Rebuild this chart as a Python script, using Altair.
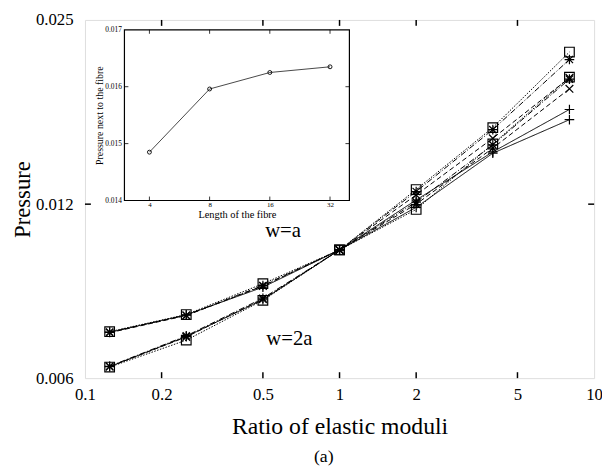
import altair as alt
import pandas as pd

# ---------------- main chart data ----------------
RATIO = [0.125, 0.25, 0.5, 1, 2, 4, 8]

SERIES = ["w=a L4", "w=a L8", "w=a L16", "w=a L32",
          "w=2a L4", "w=2a L8", "w=2a L16", "w=2a L32"]
VALUES = [
    [0.00720, 0.00772, 0.00862, 0.0100, 0.01185, 0.01470, 0.01680],
    [0.00719, 0.00770, 0.00866, 0.0100, 0.01200, 0.01500, 0.01900],
    [0.00721, 0.00771, 0.00868, 0.0100, 0.01210, 0.01520, 0.01975],
    [0.00722, 0.00773, 0.00874, 0.0100, 0.01175, 0.01525, 0.01990],
    [0.00628, 0.00708, 0.00820, 0.0100, 0.01220, 0.01478, 0.01750],
    [0.00628, 0.00707, 0.00822, 0.0100, 0.01245, 0.01560, 0.01985],
    [0.00629, 0.00710, 0.00825, 0.0100, 0.01262, 0.01615, 0.02135],
    [0.00627, 0.00698, 0.00818, 0.0100, 0.01272, 0.01628, 0.02200],
]
MARKERS = ["plus", "cross", "star", "square", "plus", "cross", "star", "square"]

X_TICKS = [0.1, 0.2, 0.5, 1, 2, 5, 10]
X_INNER_TICKS = [0.2, 0.5, 1, 2, 5]
Y_TICKS = [0.006, 0.012, 0.025]
Y_INNER_TICKS = [0.012]

LABELS = ["w=a", "w=2a"]
LABEL_X = [0.60, 0.635]
LABEL_Y = [0.01080, 0.00702]

# ---------------- inset data ----------------
FIBRE_LEN = [4, 8, 16, 32]
FIBRE_P = [0.01485, 0.01596, 0.01625, 0.01635]
INSET_X_TICKS = [4, 8, 16, 32]
INSET_Y_TICKS = [0.014, 0.015, 0.016, 0.017]
INSET_Y_INNER = [0.015, 0.016]

# ---------------- style ----------------
FONT = "Liberation Serif"
W, H = 516, 363
IX0, IX1, IY0, IY1 = 40, 268, 183, 10   # inset plot range (pixels inside main plot)

SHAPES = {
    "plus": "M-1,0L1,0M0,-1L0,1",
    "cross": "M-0.8,-0.8L0.8,0.8M-0.8,0.8L0.8,-0.8",
    "star": "M-1,0L1,0M0,-1L0,1M-0.75,-0.75L0.75,0.75M-0.75,0.75L0.75,-0.75",
    "square": "M-1,-1L1,-1L1,1L-1,1Z",
}
DASHES = {
    "plus": [1, 0],
    "cross": [5, 3],
    "star": [6, 2, 1, 2],
    "square": [1.5, 1.5],
}

rows = []
for name, vals, mk in zip(SERIES, VALUES, MARKERS):
    for r, v in zip(RATIO, vals):
        rows.append({"ratio": r, "pressure": v, "series": name, "marker": mk})
df = pd.DataFrame(rows)

xscale = alt.Scale(type="log", domain=[0.1, 10], nice=False)
yscale = alt.Scale(type="log", domain=[0.006, 0.025], nice=False)

xaxis = alt.Axis(values=X_TICKS, format="~g", title="Ratio of elastic moduli",
                 orient="bottom",
                 ticks=False, domain=False, grid=False, labelFont=FONT,
                 labelFontSize=17, labelPadding=9, labelColor="black",
                 labelFlush=False, labelOverlap=False,
                 titleFont=FONT, titleFontSize=24, titleFontWeight="normal",
                 titleColor="black", titleBaseline="alphabetic", titleY=56)
yaxis = alt.Axis(values=Y_TICKS, format="~g", title="Pressure",
                 orient="left",
                 ticks=False, domain=False, grid=False, labelFont=FONT,
                 labelFontSize=17, labelPadding=12, labelColor="black",
                 labelFlush=False, labelOverlap=False,
                 titleFont=FONT, titleFontSize=23, titleFontWeight="normal",
                 titleColor="black", titleBaseline="alphabetic", titleX=-56)

X = lambda f: alt.X(f, type="quantitative", scale=xscale, axis=xaxis)
Y = lambda f: alt.Y(f, type="quantitative", scale=yscale, axis=yaxis)

main_layers = []
for name, mk in zip(SERIES, MARKERS):
    sub = df[df["series"] == name]
    main_layers.append(
        alt.Chart(sub).mark_line(color="black", strokeWidth=1,
                                 strokeDash=DASHES[mk])
        .encode(x=X("ratio"), y=Y("pressure"))
    )
for name, mk in zip(SERIES, MARKERS):
    sub = df[df["series"] == name]
    main_layers.append(
        alt.Chart(sub).mark_point(shape=SHAPES[mk], filled=False, stroke="black",
                                  strokeWidth=1.2, size=95, opacity=1)
        .encode(x=X("ratio"), y=Y("pressure"))
    )

xt = pd.DataFrame({"ratio": X_INNER_TICKS})
yt = pd.DataFrame({"pressure": Y_INNER_TICKS})
main_layers += [
    alt.Chart(xt).mark_rule(color="black", strokeWidth=1.5)
    .encode(x=X("ratio"), y=alt.value(H), y2=alt.value(H - 6)),
    alt.Chart(xt).mark_rule(color="black", strokeWidth=1.5)
    .encode(x=X("ratio"), y=alt.value(0), y2=alt.value(6)),
    alt.Chart(yt).mark_rule(color="black", strokeWidth=1.5)
    .encode(y=Y("pressure"), x=alt.value(0), x2=alt.value(6)),
    alt.Chart(yt).mark_rule(color="black", strokeWidth=1.5)
    .encode(y=Y("pressure"), x=alt.value(W), x2=alt.value(W - 6)),
]

lab = pd.DataFrame({"ratio": LABEL_X, "pressure": LABEL_Y, "label": LABELS})
main_layers.append(
    alt.Chart(lab).mark_text(font=FONT, fontSize=21, color="black",
                             align="center", baseline="middle")
    .encode(x=X("ratio"), y=Y("pressure"), text="label:N")
)
main = alt.layer(*main_layers)

# ---------------- inset ----------------
ixscale = alt.Scale(type="log", base=2, domain=[3, 40], range=[IX0, IX1], nice=False)
iyscale = alt.Scale(type="linear", domain=[0.014, 0.017], range=[IY0, IY1],
                    nice=False, zero=False)
ixaxis = alt.Axis(values=INSET_X_TICKS, format="~g", title="Length of the fibre",
                  orient="bottom", zindex=2,
                  offset=IY0 - H, ticks=False, domain=False, grid=False,
                  labelFont=FONT, labelFontSize=7, labelPadding=0,
                  labelColor="black", labelFlush=False, labelOverlap=False,
                  titleFont=FONT, titleFontSize=10.5, titleFontWeight="normal",
                  titleColor="black", titleBaseline="alphabetic", titleY=17)
iyaxis = alt.Axis(values=INSET_Y_TICKS, format="~g", title="Pressure next to the fibre",
                  orient="left", zindex=2,
                  offset=-IX0, ticks=False, domain=False, grid=False,
                  labelFont=FONT, labelFontSize=7.5, labelPadding=3,
                  labelColor="black", labelFlush=False, labelOverlap=False,
                  titleFont=FONT, titleFontSize=10, titleFontWeight="normal",
                  titleColor="black", titleBaseline="alphabetic", titleX=-22)
IXe = lambda f: alt.X(f, type="quantitative", scale=ixscale, axis=ixaxis)
IYe = lambda f: alt.Y(f, type="quantitative", scale=iyscale, axis=iyaxis)

frame = pd.DataFrame({"length": [3], "length2": [40], "p": [0.014], "p2": [0.017]})
idf = pd.DataFrame({"length": FIBRE_LEN, "p": FIBRE_P})
ixt = pd.DataFrame({"length": INSET_X_TICKS})
iyt = pd.DataFrame({"p": INSET_Y_INNER})

inset = alt.layer(
    alt.Chart(frame).mark_rect(fill="white", stroke="black", strokeWidth=1.2)
    .encode(x=IXe("length"), x2="length2", y=IYe("p"), y2="p2"),
    alt.Chart(ixt).mark_rule(color="black", strokeWidth=0.8)
    .encode(x=IXe("length"), y=alt.value(IY0), y2=alt.value(IY0 - 4)),
    alt.Chart(ixt).mark_rule(color="black", strokeWidth=0.8)
    .encode(x=IXe("length"), y=alt.value(IY1), y2=alt.value(IY1 + 4)),
    alt.Chart(iyt).mark_rule(color="black", strokeWidth=0.8)
    .encode(y=IYe("p"), x=alt.value(IX0), x2=alt.value(IX0 + 4)),
    alt.Chart(iyt).mark_rule(color="black", strokeWidth=0.8)
    .encode(y=IYe("p"), x=alt.value(IX1), x2=alt.value(IX1 - 4)),
    alt.Chart(idf).mark_line(color="#333333", strokeWidth=0.9)
    .encode(x=IXe("length"), y=IYe("p")),
    alt.Chart(idf).mark_point(shape="circle", filled=False, stroke="black",
                              strokeWidth=0.9, size=16, opacity=1)
    .encode(x=IXe("length"), y=IYe("p")),
)

chart = (
    alt.layer(main, inset)
    .resolve_scale(x="independent", y="independent")
    .properties(
        width=W, height=H,
        autosize=alt.AutoSizeParams(type="none"),
        padding={"left": 78, "top": 9, "right": 8, "bottom": 90},
        title=alt.TitleParams("(a)", orient="bottom", anchor="middle",
                              font=FONT, fontSize=18, fontWeight="normal",
                              color="black", dx=-16, offset=10),
    )
    .configure_view(stroke="black", strokeWidth=2)
    .configure(background="white")
)

chart.save("out.html", embed_options={"renderer": "svg", "actions": False})
